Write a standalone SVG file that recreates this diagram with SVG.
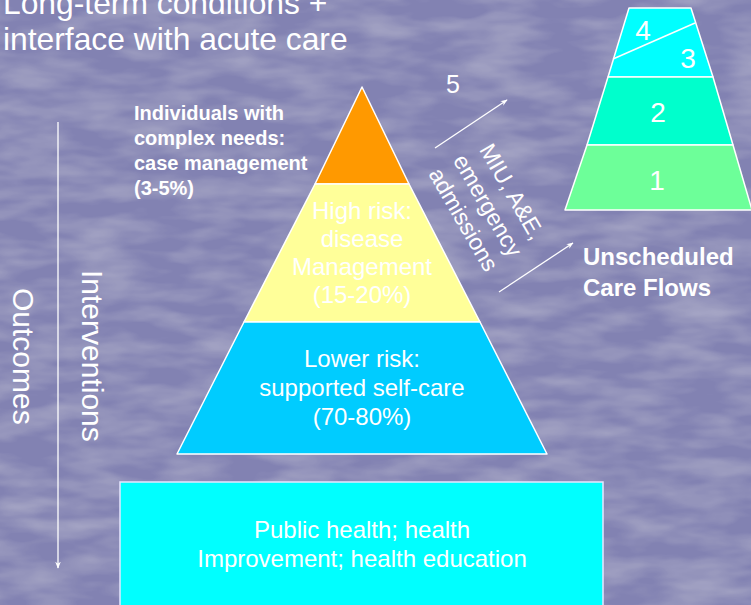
<svg xmlns="http://www.w3.org/2000/svg" width="751" height="605" viewBox="0 0 751 605">
<defs>
<style>
text{font-family:"Liberation Sans",Arial,sans-serif;fill:#ffffff}
.tier{stroke:#ffffff;stroke-width:1.5;stroke-linejoin:round}
.b{font-weight:bold}
.conn{stroke:#ffffff;stroke-width:1.3;fill:none}
</style>
<marker id="ah" viewBox="0 0 10 10" refX="9" refY="5" markerWidth="7" markerHeight="7" orient="auto" markerUnits="userSpaceOnUse">
<path d="M0,1 L10,5 L0,9 L3,5 Z" fill="#ffffff"/>
</marker>
<filter id="tex" x="0" y="0" width="100%" height="100%">
<feTurbulence type="fractalNoise" baseFrequency="0.015 0.05" numOctaves="3" seed="4" result="n"/>
<feColorMatrix in="n" type="matrix" values="0 0 0 0 1  0 0 0 0 1  0 0 0 0 1  0 0 0 0.35 -0.12" result="w"/>
<feComposite in="w" in2="SourceGraphic" operator="in" result="wc"/>
<feMerge><feMergeNode in="SourceGraphic"/><feMergeNode in="wc"/></feMerge>
</filter>
</defs>
<rect width="751" height="605" fill="#8282b2" filter="url(#tex)"/>

<g id="title">
<text x="3" y="14" font-size="31.8">Long-term conditions +</text>
<text x="3" y="50" font-size="31.8">interface with acute care</text>
</g>

<g id="complex-label">
<text class="b" x="134" y="120" font-size="20">Individuals with</text>
<text class="b" x="134" y="145" font-size="20">complex needs:</text>
<text class="b" x="134" y="170" font-size="20">case management</text>
<text class="b" x="134" y="195" font-size="20">(3-5%)</text>
</g>

<g id="tier-orange">
<polygon class="tier" points="362,87 409,184 315,184" fill="#ff9900"/>
</g>
<g id="tier-yellow">
<polygon class="tier" points="315,184 409,184 480,322 244,322" fill="#ffff99"/>
<g text-anchor="middle" font-size="24">
<text x="362" y="219">High risk:</text>
<text x="362" y="247">disease</text>
<text x="362" y="275">Management</text>
<text x="362" y="303">(15-20%)</text>
</g>
</g>
<g id="tier-blue">
<polygon class="tier" points="244,322 480,322 547,454 177,454" fill="#00ccff"/>
<g text-anchor="middle" font-size="24">
<text x="362" y="367">Lower risk:</text>
<text x="362" y="396">supported self-care</text>
<text x="362" y="425">(70-80%)</text>
</g>
</g>

<g id="base">
<rect x="120" y="482" width="483" height="130" fill="#00ffff" stroke="#e6e6ff" stroke-width="1.5"/>
<g text-anchor="middle" font-size="24">
<text x="362" y="538">Public health; health</text>
<text x="362" y="567">Improvement; health education</text>
</g>
</g>

<g id="small-pyramid">
<polygon class="tier" points="629,8 691,8 713,77 608,77" fill="#00ffff"/>
<polygon class="tier" points="608,77 713,77 733,145 587,145" fill="#00ffcc"/>
<polygon class="tier" points="587,145 733,145 752,210 565,210" fill="#6dff99"/>
<line class="tier" x1="613" y1="59" x2="695" y2="23"/>
<g font-size="28" text-anchor="middle">
<text x="643" y="40">4</text>
<text x="688" y="68">3</text>
<text x="658" y="122">2</text>
<text x="657" y="190">1</text>
</g>
</g>

<g id="label-5"><text x="453" y="93" font-size="25" text-anchor="middle">5</text></g>

<g id="flow-label" transform="translate(487,206) rotate(60)" text-anchor="middle" font-size="23">
<text x="0" y="-21">MIU, A&amp;E,</text>
<text x="0" y="7">emergency</text>
<text x="0" y="35">admissions</text>
</g>

<g id="unscheduled">
<text class="b" x="583" y="265" font-size="24">Unscheduled</text>
<text class="b" x="583" y="296" font-size="24">Care Flows</text>
</g>

<g id="axis-labels">
<text transform="translate(82,270) rotate(90)" font-size="30">Interventions</text>
<text transform="translate(13,288) rotate(90)" font-size="30">Outcomes</text>
</g>

<g id="connectors">
<line class="conn" x1="58" y1="122" x2="58" y2="568" marker-end="url(#ah)"/>
<line class="conn" x1="435" y1="148" x2="507" y2="100" marker-end="url(#ah)"/>
<line class="conn" x1="499" y1="292" x2="573" y2="243" marker-end="url(#ah)"/>
</g>
</svg>
